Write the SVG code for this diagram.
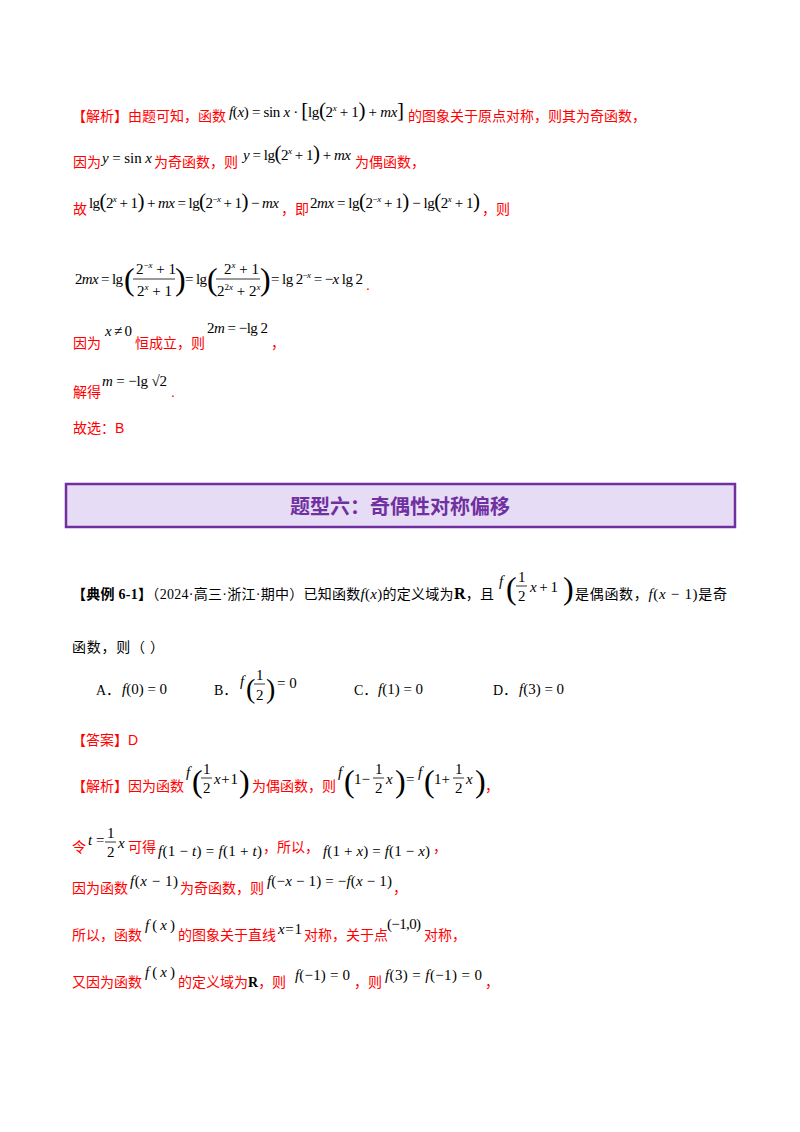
<svg xmlns="http://www.w3.org/2000/svg" width="800" height="1132" viewBox="0 0 800 1132">
<style>
.r{font-family:"Liberation Sans","Noto Sans CJK SC",sans-serif;font-size:14px;fill:#f00}
.k{font-family:"Liberation Serif","Noto Sans CJK SC",serif;font-size:14px;fill:#000}
.m{font-family:"Liberation Serif",serif;font-size:15px;fill:#000}
.i{font-style:italic}
.s{font-size:9px}
.b{font-size:21px}
.fl{stroke:#000;stroke-width:0.8}
</style>
<rect width="800" height="1132" fill="#fff"/>
<!-- solution part 1 -->
<text x="72" y="121" class="r">【解析】由题可知，函数</text>
<text x="229" y="117" class="m" textLength="175"><tspan class="i">f</tspan>(<tspan class="i">x</tspan>) = sin <tspan class="i">x</tspan> · <tspan class="b">[</tspan>lg<tspan class="b">(</tspan>2<tspan class="s i" dy="-6">x</tspan><tspan dy="6"> + 1</tspan><tspan class="b">)</tspan> + <tspan class="i">mx</tspan><tspan class="b">]</tspan></text>
<text x="408" y="121" class="r">的图象关于原点对称，则其为奇函数，</text>
<text x="73" y="167" class="r">因为</text>
<text x="102" y="163" class="m" textLength="50"><tspan class="i">y</tspan> = sin <tspan class="i">x</tspan></text>
<text x="154" y="167" class="r">为奇函数，则</text>
<text x="243" y="160" class="m" textLength="108"><tspan class="i">y</tspan> = lg<tspan class="b">(</tspan>2<tspan class="s i" dy="-6">x</tspan><tspan dy="6"> + 1</tspan><tspan class="b">)</tspan> + <tspan class="i">mx</tspan></text>
<text x="355" y="167" class="r">为偶函数，</text>
<text x="73" y="214" class="r">故</text>
<text x="89" y="208" class="m" textLength="190">lg<tspan class="b">(</tspan>2<tspan class="s i" dy="-6">x</tspan><tspan dy="6"> + 1</tspan><tspan class="b">)</tspan> + <tspan class="i">mx</tspan> = lg<tspan class="b">(</tspan>2<tspan class="s" dy="-6">−<tspan class="i">x</tspan></tspan><tspan dy="6"> + 1</tspan><tspan class="b">)</tspan> − <tspan class="i">mx</tspan></text>
<text x="281" y="214" class="r">，即</text>
<text x="310" y="208" class="m" textLength="170">2<tspan class="i">mx</tspan> = lg<tspan class="b">(</tspan>2<tspan class="s" dy="-6">−<tspan class="i">x</tspan></tspan><tspan dy="6"> + 1</tspan><tspan class="b">)</tspan> − lg<tspan class="b">(</tspan>2<tspan class="s i" dy="-6">x</tspan><tspan dy="6"> + 1</tspan><tspan class="b">)</tspan></text>
<text x="482" y="214" class="r">，则</text>
<!-- fraction line -->
<g class="m">
<text x="75" y="284" textLength="48">2<tspan class="i">mx</tspan> = lg</text>
<text x="124" y="290" font-size="32">(</text>
<text x="136" y="274">2<tspan class="s" dy="-6">−<tspan class="i">x</tspan></tspan><tspan dy="6"> + 1</tspan></text>
<line x1="133" y1="279" x2="175" y2="279" class="fl"/>
<text x="137" y="296">2<tspan class="s i" dy="-6">x</tspan><tspan dy="6"> + 1</tspan></text>
<text x="175" y="290" font-size="32">)</text>
<text x="185" y="284" textLength="22">= lg</text>
<text x="207" y="290" font-size="32">(</text>
<text x="224" y="274">2<tspan class="s i" dy="-6">x</tspan><tspan dy="6"> + 1</tspan></text>
<line x1="216" y1="279" x2="260" y2="279" class="fl"/>
<text x="217" y="296">2<tspan class="s" dy="-6">2<tspan class="i">x</tspan></tspan><tspan dy="6"> + 2</tspan><tspan class="s i" dy="-6">x</tspan></text>
<text x="260" y="290" font-size="32">)</text>
<text x="271" y="284" textLength="92">= lg 2<tspan class="s" dy="-6">−<tspan class="i">x</tspan></tspan><tspan dy="6"> = −<tspan class="i">x</tspan> lg 2</tspan></text>
</g>
<text x="366" y="290" class="r">.</text>
<text x="73" y="348" class="r">因为</text>
<text x="105" y="336" class="m" textLength="27"><tspan class="i">x</tspan> ≠ 0</text>
<text x="135" y="348" class="r">恒成立，则</text>
<text x="207" y="333" class="m" textLength="61">2<tspan class="i">m</tspan> = −lg 2</text>
<text x="271" y="348" class="r">，</text>
<text x="73" y="397" class="r">解得</text>
<text x="102" y="386" class="m" textLength="65"><tspan class="i">m</tspan> = −lg √2</text>
<text x="171" y="397" class="r">.</text>
<text x="73" y="433" class="r">故选：B</text>
<!-- title -->
<rect x="66" y="484" width="669" height="43" fill="#e6dcf5" stroke="#7030a0" stroke-width="2.5"/>
<text x="400" y="514" text-anchor="middle" style="font-family:'Noto Sans CJK SC',sans-serif;font-size:20px;font-weight:bold;fill:#7030a0">题型六：奇偶性对称偏移</text>
<!-- example -->
<text x="72" y="599" class="k" textLength="422"><tspan font-weight="bold">【典例 6-1】</tspan>（2024·高三·浙江·期中）已知函数<tspan class="i m">f</tspan><tspan class="m">(<tspan class="i">x</tspan>)</tspan>的定义域为<tspan font-weight="bold" font-size="16">R</tspan>，且</text>
<g class="m">
<text x="499" y="586" class="i">f</text>
<text x="506" y="599" font-size="32">(</text>
<text x="518" y="582">1</text>
<line x1="516" y1="586" x2="527" y2="586" class="fl"/>
<text x="518" y="601">2</text>
<text x="530" y="592" textLength="28"><tspan class="i">x</tspan> + 1</text>
<text x="563" y="599" font-size="32">)</text>
</g>
<text x="575" y="599" class="k" textLength="152">是偶函数，<tspan class="i m">f</tspan><tspan class="m">(<tspan class="i">x</tspan> − 1)</tspan>是奇</text>
<text x="72" y="652" class="k" textLength="92">函数，则（    ）</text>
<text x="96" y="695" class="k">A．</text>
<text x="122" y="694" class="m"><tspan class="i">f</tspan>(0) = 0</text>
<text x="214" y="695" class="k">B．</text>
<g class="m">
<text x="240" y="686" class="i">f</text>
<text x="246" y="698" font-size="28">(</text>
<text x="256" y="680">1</text>
<line x1="254" y1="684" x2="265" y2="684" class="fl"/>
<text x="256" y="700">2</text>
<text x="266" y="698" font-size="28">)</text>
<text x="277" y="688">= 0</text>
</g>
<text x="354" y="695" class="k">C．</text>
<text x="378" y="694" class="m"><tspan class="i">f</tspan>(1) = 0</text>
<text x="493" y="695" class="k">D．</text>
<text x="519" y="694" class="m"><tspan class="i">f</tspan>(3) = 0</text>
<text x="72" y="745" class="r">【答案】D</text>
<!-- solution 2 -->
<text x="72" y="791" class="r">【解析】因为函数</text>
<g class="m">
<text x="186" y="777" class="i">f</text>
<text x="192" y="792" font-size="32">(</text>
<text x="203" y="774">1</text>
<line x1="201" y1="778" x2="212" y2="778" class="fl"/>
<text x="203" y="793">2</text>
<text x="214" y="784" textLength="24"><tspan class="i">x</tspan> + 1</text>
<text x="239" y="792" font-size="32">)</text>
</g>
<text x="252" y="791" class="r">为偶函数，则</text>
<g class="m">
<text x="338" y="777" class="i">f</text>
<text x="344" y="792" font-size="32">(</text>
<text x="354" y="784" textLength="16">1 −</text>
<text x="375" y="774">1</text>
<line x1="373" y1="778" x2="384" y2="778" class="fl"/>
<text x="375" y="793">2</text>
<text x="386" y="784" class="i">x</text>
<text x="395" y="792" font-size="32">)</text>
<text x="406" y="784">=</text>
<text x="418" y="777" class="i">f</text>
<text x="424" y="792" font-size="32">(</text>
<text x="434" y="784" textLength="16">1 +</text>
<text x="455" y="774">1</text>
<line x1="453" y1="778" x2="464" y2="778" class="fl"/>
<text x="455" y="793">2</text>
<text x="466" y="784" class="i">x</text>
<text x="475" y="792" font-size="32">)</text>
</g>
<text x="485" y="791" class="r">，</text>
<text x="72" y="852" class="r">令</text>
<g class="m">
<text x="88" y="845"><tspan class="i">t</tspan> =</text>
<text x="107" y="838">1</text>
<line x1="105" y1="842" x2="116" y2="842" class="fl"/>
<text x="107" y="857">2</text>
<text x="118" y="848" class="i">x</text>
</g>
<text x="128" y="852" class="r">可得</text>
<text x="158" y="856" class="m" textLength="104"><tspan class="i">f</tspan>(1 − <tspan class="i">t</tspan>) = <tspan class="i">f</tspan>(1 + <tspan class="i">t</tspan>)</text>
<text x="263" y="852" class="r">，所以，</text>
<text x="323" y="856" class="m" textLength="107"><tspan class="i">f</tspan>(1 + <tspan class="i">x</tspan>) = <tspan class="i">f</tspan>(1 − <tspan class="i">x</tspan>)</text>
<text x="433" y="852" class="r">，</text>
<text x="72" y="893" class="r">因为函数</text>
<text x="130" y="886" class="m" textLength="48"><tspan class="i">f</tspan>(<tspan class="i">x</tspan> − 1)</text>
<text x="180" y="893" class="r">为奇函数，则</text>
<text x="267" y="886" class="m" textLength="125"><tspan class="i">f</tspan>(−<tspan class="i">x</tspan> − 1) = −<tspan class="i">f</tspan>(<tspan class="i">x</tspan> − 1)</text>
<text x="393" y="893" class="r">，</text>
<text x="72" y="940" class="r">所以，函数</text>
<text x="145" y="930" class="m" textLength="30"><tspan class="i">f</tspan>(<tspan class="i">x</tspan>)</text>
<text x="178" y="940" class="r">的图象关于直线</text>
<text x="278" y="934" class="m" textLength="24"><tspan class="i">x</tspan> = 1</text>
<text x="304" y="940" class="r">对称，关于点</text>
<text x="387" y="929" class="m" textLength="34">(−1,0)</text>
<text x="424" y="940" class="r">对称，</text>
<text x="72" y="987" class="r">又因为函数</text>
<text x="145" y="977" class="m" textLength="30"><tspan class="i">f</tspan>(<tspan class="i">x</tspan>)</text>
<text x="178" y="987" class="r">的定义域为<tspan class="k" font-weight="bold" font-size="16">R</tspan>，则</text>
<text x="295" y="980" class="m" textLength="55"><tspan class="i">f</tspan>(−1) = 0</text>
<text x="354" y="987" class="r">，则</text>
<text x="385" y="980" class="m" textLength="97"><tspan class="i">f</tspan>(3) = <tspan class="i">f</tspan>(−1) = 0</text>
<text x="485" y="987" class="r">，</text>
</svg>
